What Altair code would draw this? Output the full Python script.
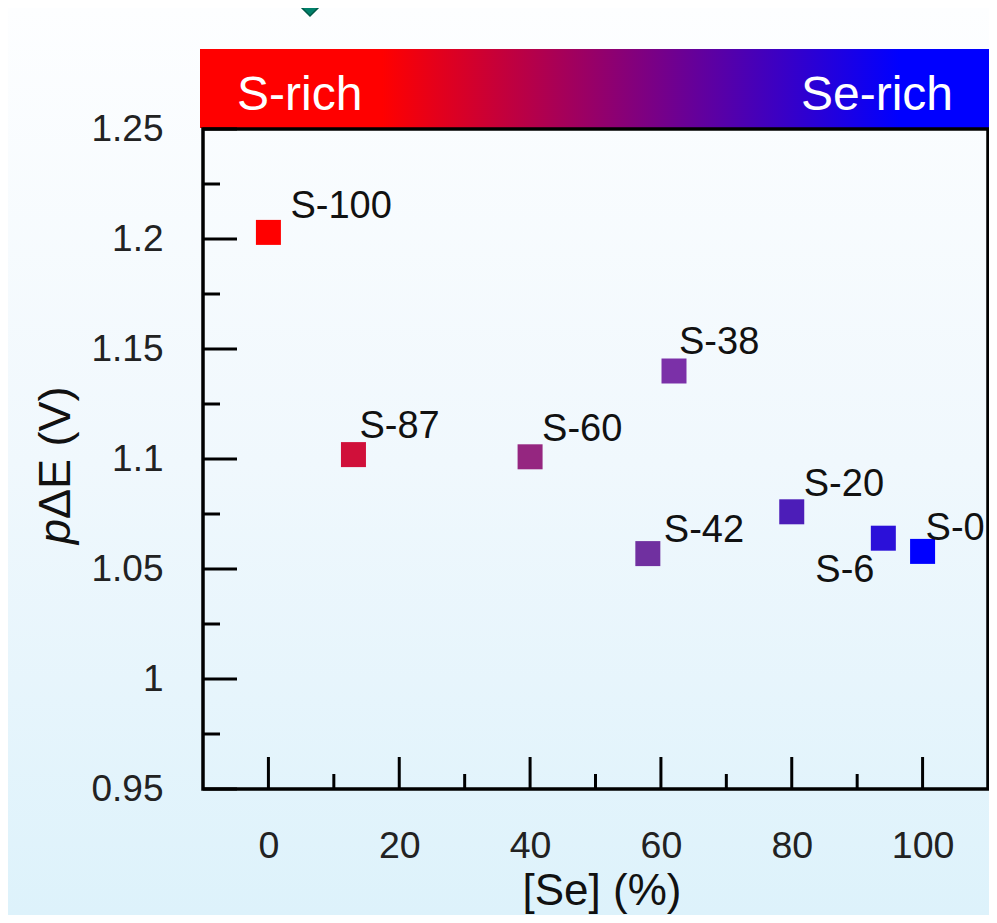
import altair as alt
import pandas as pd

# ---- data ----
names = ["S-100", "S-87", "S-60", "S-38", "S-42", "S-20", "S-6", "S-0"]
se_pct = [0, 13, 40, 62, 58, 80, 94, 100]
pdE = [1.203, 1.102, 1.101, 1.140, 1.057, 1.076, 1.064, 1.058]
colors = ["#FF0000", "#D0103A", "#952680", "#7B30A8", "#7030A0", "#4C1DB8", "#2B10D9", "#0000FF"]
label_dx = [22, 6, 12, 5, 16, 12, -68, 3]
label_dy = [-14, -17, -16, -17, -12, -16, 44, -11]

x_major = [0, 20, 40, 60, 80, 100]
x_minor = [10, 30, 50, 70, 90]
y_major = [0.95, 1.0, 1.05, 1.1, 1.15, 1.2, 1.25]
y_minor = [0.975, 1.025, 1.075, 1.125, 1.175, 1.225]

W, H = 785, 660
PL, PT, PR, PB = 195, 121, 1, 126
FONT = "Liberation Sans"

df = pd.DataFrame({"name": names, "se": se_pct, "v": pdE, "c": colors})
one = pd.DataFrame({"a": [0]})

xs = alt.Scale(domain=[-10, 110], nice=False, zero=False)
ys = alt.Scale(domain=[0.95, 1.25], nice=False, zero=False)

X = alt.X("se:Q", scale=xs,
          axis=alt.Axis(values=x_major, ticks=False, tickSize=0, domain=False, grid=False,
                        labelPadding=38, labelFontSize=37.5, title=None, labelFont=FONT,
                        labelColor="#222222", zindex=5))
Y = alt.Y("v:Q", scale=ys,
          axis=alt.Axis(values=y_major, ticks=False, tickSize=0, domain=False, grid=False,
                        labelPadding=40, labelFontSize=37, title=None, format="~g",
                        labelFont=FONT, labelColor="#222222", zindex=5))

bg = alt.Chart(one).mark_rect(
    fill=alt.Gradient(gradient="linear",
                      stops=[alt.GradientStop(color="#FDFEFF", offset=0),
                             alt.GradientStop(color="#F0F8FD", offset=0.5),
                             alt.GradientStop(color="#DDF2FB", offset=1)],
                      x1=0, x2=0, y1=0, y2=1)
).encode(x=alt.value(-PL), x2=alt.value(W + PR), y=alt.value(-PT), y2=alt.value(H + PB))

bar = alt.Chart(one).mark_rect(
    fill=alt.Gradient(gradient="linear",
                      stops=[alt.GradientStop(color="#FF0000", offset=0),
                             alt.GradientStop(color="#FF0000", offset=0.23),
                             alt.GradientStop(color="#0000FF", offset=0.885),
                             alt.GradientStop(color="#0000FF", offset=1)],
                      x1=0, x2=1, y1=0, y2=0)
).encode(x=alt.value(-3), x2=alt.value(W + 3), y=alt.value(-80), y2=alt.value(-1))

srich = alt.Chart(one).mark_text(text="S-rich", color="white", font=FONT, fontSize=48,
                                 align="left", baseline="alphabetic").encode(
    x=alt.value(34), y=alt.value(-19))
serich = alt.Chart(one).mark_text(text="Se-rich", color="white", font=FONT, fontSize=48,
                                  align="right", baseline="alphabetic").encode(
    x=alt.value(750), y=alt.value(-19))

diamond = alt.Chart(one).mark_point(shape="diamond", filled=True, size=1300, fill="#00806A",
                                    stroke="#005A48", strokeWidth=1.5, opacity=1).encode(
    x=alt.value(107), y=alt.value(-131))

ymaj = alt.Chart(pd.DataFrame({"v": y_major})).mark_rule(color="black", strokeWidth=3).encode(
    y=alt.Y("v:Q", scale=ys), x=alt.value(0), x2=alt.value(34))
ymin = alt.Chart(pd.DataFrame({"v": y_minor})).mark_rule(color="black", strokeWidth=3).encode(
    y=alt.Y("v:Q", scale=ys), x=alt.value(0), x2=alt.value(17))
xmaj = alt.Chart(pd.DataFrame({"se": x_major})).mark_rule(color="black", strokeWidth=3).encode(
    x=alt.X("se:Q", scale=xs), y=alt.value(H), y2=alt.value(H - 32))
xmin = alt.Chart(pd.DataFrame({"se": x_minor})).mark_rule(color="black", strokeWidth=3).encode(
    x=alt.X("se:Q", scale=xs), y=alt.value(H), y2=alt.value(H - 15))

pts = alt.Chart(df).mark_square(size=625, opacity=1).encode(
    x=X, y=Y, color=alt.Color("c:N", scale=None))

labels = []
for i, n in enumerate(names):
    labels.append(
        alt.Chart(df[df["name"] == n]).mark_text(
            font=FONT, fontSize=38, color="#111111", align="left", baseline="alphabetic",
            dx=label_dx[i], dy=label_dy[i]).encode(
            x=alt.X("se:Q", scale=xs), y=alt.Y("v:Q", scale=ys), text="name:N"))

frame = alt.Chart(one).mark_rect(filled=False, stroke="black", strokeWidth=3.5).encode(
    x=alt.value(0), x2=alt.value(W), y=alt.value(0), y2=alt.value(H))

yt_p = alt.Chart(one).mark_text(text="p", font=FONT, fontSize=45, fontStyle="italic",
                                angle=270, align="right", baseline="alphabetic",
                                color="#111111").encode(x=alt.value(-133), y=alt.value(390))
yt_rest = alt.Chart(one).mark_text(text="ΔE (V)", font=FONT, fontSize=45,
                                   angle=270, align="left", baseline="alphabetic",
                                   color="#111111").encode(x=alt.value(-133), y=alt.value(390))
xt = alt.Chart(one).mark_text(text="[Se] (%)", font=FONT, fontSize=44, align="center",
                              baseline="alphabetic", color="#111111").encode(
    x=alt.value(399), y=alt.value(776))

chart = alt.layer(bg, bar, srich, serich, diamond, ymaj, ymin, xmaj, xmin, pts, *labels,
                  frame, yt_p, yt_rest, xt).properties(
    width=W, height=H,
    autosize=alt.AutoSizeParams(type="none"),
    padding={"left": PL, "top": PT, "right": PR, "bottom": PB},
).configure_view(stroke=None)

chart.save("out.html", embed_options={"renderer": "svg", "actions": False})
